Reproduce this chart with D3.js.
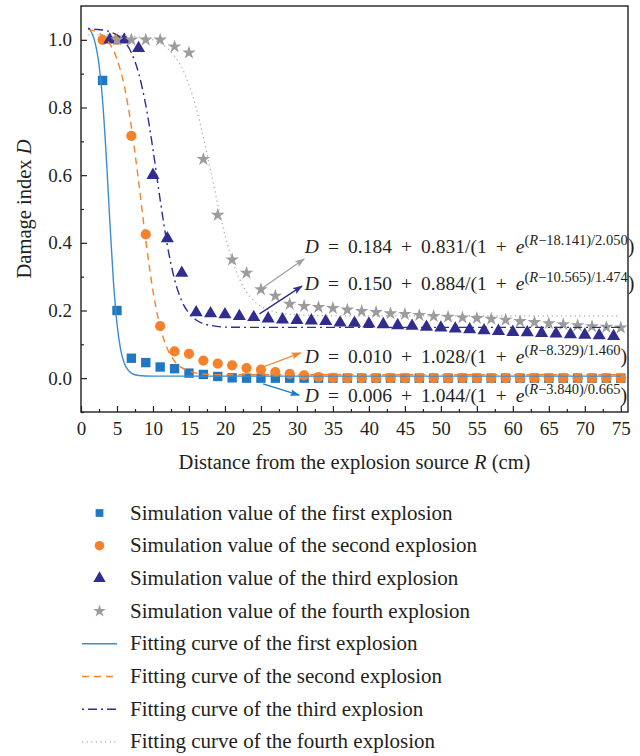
<!DOCTYPE html>
<html>
<head>
<meta charset="utf-8">
<script src="https://cdn.jsdelivr.net/npm/d3@7"></script>
<style>
body { margin: 0; background: #fff; }
text { font-family: "Liberation Serif", "Times New Roman", serif; fill: #231f20; }
</style>
</head>
<body>
<div id="chart"></div>
<script>
// simulation values
const squareX = [3,5,7,9,11,13,15,17,19,21,23,25,27,29,31,33,35,37,39,41,43,45,47,49,51,53,55,57,59,61,63,65,67,69,71,73,75];
const squareY = [0.880,0.200,0.059,0.046,0.033,0.028,0.015,0.011,0.005,0.001,0.000,0.000,0.000,0.000,0.000,0.000,0.000,0.000,0.000,0.000,0.000,0.000,0.000,0.000,0.000,0.000,0.000,0.000,0.000,0.000,0.000,0.000,0.000,0.000,0.000,0.000,0.000];

const circleX = [3,5,7,9,11,13,15,17,19,21,23,25,27,29,31,33,35,37,39,41,43,45,47,49,51,53,55,57,59,61,63,65,67,69,71,73,75];
const circleY = [1.000,1.000,0.716,0.425,0.154,0.079,0.072,0.052,0.043,0.038,0.030,0.025,0.018,0.013,0.008,0.003,0.001,0.000,0.000,0.000,0.000,0.000,0.000,0.000,0.000,0.000,0.000,0.000,0.000,0.000,0.000,0.000,0.000,0.000,0.000,0.000,0.000];

const triX = [4,6,8,10,12,14,16,18,20,22,24,26,28,30,32,34,36,38,40,42,44,46,48,50,52,54,56,58,60,62,64,66,68,70,72,74];
const triY = [1.000,1.000,0.975,0.600,0.413,0.311,0.194,0.191,0.188,0.183,0.180,0.176,0.173,0.171,0.170,0.168,0.164,0.163,0.161,0.159,0.156,0.154,0.151,0.149,0.146,0.144,0.141,0.139,0.136,0.135,0.133,0.131,0.129,0.128,0.126,0.124];

const starX = [5,7,9,11,13,15,17,19,21,23,25,27,29,31,33,35,37,39,41,43,45,47,49,51,53,55,57,59,61,63,65,67,69,71,73,75];
const starY = [1.000,1.000,1.000,1.000,0.980,0.962,0.647,0.482,0.350,0.311,0.262,0.243,0.219,0.213,0.210,0.207,0.202,0.198,0.195,0.191,0.189,0.186,0.183,0.181,0.179,0.177,0.175,0.172,0.168,0.165,0.162,0.159,0.156,0.153,0.151,0.149];

// fitted curves, points
const fit1X = [1,1.5,2,2.5,3,3.5,4,4.5,5,5.5,6,6.5,7,8,10,20,40,75];
const fit1Y = [1.036,1.020,0.988,0.927,0.820,0.659,0.466,0.288,0.161,0.085,0.045,0.025,0.015,0.008,0.006,0.006,0.006,0.006];
const fit2X = [1,2,3,4,5,6,7,8,9,10,11,12,13,14,15,16,18,20,30,75];
const fit2Y = [1.031,1.025,1.012,0.988,0.943,0.865,0.743,0.582,0.408,0.258,0.152,0.087,0.050,0.031,0.021,0.015,0.011,0.010,0.010,0.010];
const fit3X = [1,2,3,4,5,6,7,8,9,10,11,12,13,14,15,16,17,18,20,25,75];
const fit3Y = [1.033,1.031,1.029,1.024,1.014,0.996,0.962,0.902,0.807,0.676,0.527,0.392,0.292,0.228,0.192,0.172,0.161,0.156,0.151,0.150,0.150];
const fit4X = [1,5,8,10,11,12,13,14,15,16,17,18,19,20,21,22,23,24,25,26,28,30,33,40,75];
const fit4Y = [1.015,1.014,1.009,1.000,0.990,0.975,0.952,0.918,0.867,0.799,0.712,0.614,0.514,0.423,0.349,0.294,0.255,0.229,0.212,0.202,0.191,0.187,0.185,0.184,0.184];

// fit parameters shown in the annotations: D = a + b/(1 + e^((R-c)/d))
const fitA = ["0.184","0.150","0.010","0.006"];
const fitB = ["0.831","0.884","1.028","1.044"];
const fitC = ["18.141","10.565","8.329","3.840"];
const fitD = ["2.050","1.474","1.460","0.665"];
const labelAt = [[31.1,0.369],[31.1,0.261],[31.1,0.045],[31.1,-0.069]];
const arrowFrom = [[25.1,0.265],[24.8,0.190],[25.3,0.033],[25.3,-0.017]];
const arrowTo = [[31.0,0.352],[30.7,0.272],[30.5,0.075],[30.3,-0.050]];

const xTicks = [0,5,10,15,20,25,30,35,40,45,50,55,60,65,70,75];
const xMinor = [2.5,7.5,12.5,17.5,22.5,27.5,32.5,37.5,42.5,47.5,52.5,57.5,62.5,67.5,72.5];
const yTicks = [0,0.2,0.4,0.6,0.8,1.0];
const yMinor = [-0.1,0.1,0.3,0.5,0.7,0.9];

const legendLabels = [
  "Simulation value of the first explosion",
  "Simulation value of the second explosion",
  "Simulation value of the third explosion",
  "Simulation value of the fourth explosion",
  "Fitting curve of the first explosion",
  "Fitting curve of the second explosion",
  "Fitting curve of the third explosion",
  "Fitting curve of the fourth explosion"
];

const BLUE = "#1f78c1", ORANGE = "#f5822a", NAVY = "#302d8f", GRAY = "#9c9c9c";
const colors = [BLUE, ORANGE, NAVY, GRAY];
const lineColors = ["#3a8dd2", ORANGE, NAVY, "#a8a8a8"];
const dashes = [null, "7,5", "2,4,9,4", "1.2,3.4"];

const WIDTH = 640, HEIGHT = 756;
const PLOT = {left: 81, right: 628, top: 6, bottom: 412};

const svg = d3.select("#chart").append("svg")
  .attr("width", WIDTH).attr("height", HEIGHT);

const x = d3.scaleLinear().domain([0, 76]).range([PLOT.left, PLOT.right]);
const y = d3.scaleLinear().domain([-0.1, 1.1]).range([PLOT.bottom, PLOT.top]);

const markers = [
  {xs: squareX, ys: squareY, type: d3.symbolSquare, size: 88},
  {xs: circleX, ys: circleY, type: d3.symbolCircle, size: 82},
  {xs: triX, ys: triY, type: d3.symbolTriangle, size: 74},
  {xs: starX, ys: starY, type: d3.symbolStar, size: 58}
];
const fits = [[fit1X, fit1Y], [fit2X, fit2Y], [fit3X, fit3Y], [fit4X, fit4Y]];

// markers first, fitted lines drawn over them
markers.forEach((m, i) => {
  svg.append("g").selectAll("path")
    .data(m.xs.map((v, k) => [v, m.ys[k]]))
    .join("path")
    .attr("transform", d => `translate(${x(d[0])},${y(d[1])})`)
    .attr("d", d3.symbol().type(m.type).size(m.size))
    .attr("fill", colors[i]);
});

const line = d3.line().x(d => x(d[0])).y(d => y(d[1])).curve(d3.curveMonotoneX);
fits.forEach((f, i) => {
  svg.append("path")
    .attr("d", line(f[0].map((v, k) => [v, f[1][k]])))
    .attr("fill", "none")
    .attr("stroke", lineColors[i])
    .attr("stroke-width", i === 3 ? 1.2 : 1.4)
    .attr("stroke-dasharray", dashes[i]);
});

// axes: ticks point inward
svg.append("g").attr("transform", `translate(0,${PLOT.bottom})`)
  .call(d3.axisBottom(x).tickValues(xTicks).tickSizeInner(-6).tickSizeOuter(0).tickPadding(10).tickFormat(d3.format("d")));
svg.append("g").attr("transform", `translate(0,${PLOT.bottom})`)
  .call(d3.axisBottom(x).tickValues(xMinor).tickSizeInner(-3).tickSizeOuter(0).tickFormat(""));
svg.append("g").attr("transform", `translate(${PLOT.left},0)`)
  .call(d3.axisLeft(y).tickValues(yTicks).tickSizeInner(-6).tickSizeOuter(0).tickPadding(9).tickFormat(d3.format(".1f")));
svg.append("g").attr("transform", `translate(${PLOT.left},0)`)
  .call(d3.axisLeft(y).tickValues(yMinor).tickSizeInner(-3).tickSizeOuter(0).tickFormat(""));

svg.selectAll(".domain").remove();
svg.selectAll(".tick line").attr("stroke", "#231f20").attr("stroke-width", 1.2);
svg.selectAll(".tick text").attr("font-size", 19).attr("fill", "#231f20");

svg.append("rect")
  .attr("x", PLOT.left).attr("y", PLOT.top)
  .attr("width", PLOT.right - PLOT.left).attr("height", PLOT.bottom - PLOT.top)
  .attr("fill", "none").attr("stroke", "#231f20").attr("stroke-width", 1.4);

// axis titles
const xTitle = svg.append("text")
  .attr("x", (PLOT.left + PLOT.right) / 2).attr("y", 469)
  .attr("text-anchor", "middle").attr("font-size", 20.5);
xTitle.append("tspan").text("Distance from the explosion source ");
xTitle.append("tspan").attr("font-style", "italic").text("R");
xTitle.append("tspan").text(" (cm)");

const yTitle = svg.append("text")
  .attr("transform", `translate(31,${(PLOT.top + PLOT.bottom) / 2}) rotate(-90)`)
  .attr("text-anchor", "middle").attr("font-size", 20.5);
yTitle.append("tspan").text("Damage index ");
yTitle.append("tspan").attr("font-style", "italic").text("D");

// arrows + equations
const defs = svg.append("defs");
colors.forEach((c, i) => {
  defs.append("marker")
    .attr("id", "head" + i)
    .attr("markerUnits", "userSpaceOnUse")
    .attr("viewBox", "0 0 10 8")
    .attr("refX", 9).attr("refY", 4)
    .attr("markerWidth", 10).attr("markerHeight", 8)
    .attr("orient", "auto")
    .append("path").attr("d", "M0,0.6L10,4L0,7.4L2,4Z").attr("fill", i === 3 ? "#a0a0a0" : c);
});

// annotation rows top to bottom belong to the fourth, third, second, first explosion
const seriesOfRow = [3, 2, 1, 0];
seriesOfRow.forEach((s, r) => {
  svg.append("line")
    .attr("x1", x(arrowFrom[r][0])).attr("y1", y(arrowFrom[r][1]))
    .attr("x2", x(arrowTo[r][0])).attr("y2", y(arrowTo[r][1]))
    .attr("stroke", s === 3 ? "#a0a0a0" : colors[s]).attr("stroke-width", 1.3)
    .attr("marker-end", `url(#head${s})`);

  const t = svg.append("text")
    .attr("x", x(labelAt[r][0])).attr("y", y(labelAt[r][1]))
    .attr("font-size", 19.5);
  t.append("tspan").attr("font-style", "italic").text("D");
  t.append("tspan").attr("word-spacing", 4.2).text(` = ${fitA[r]} + ${fitB[r]}/(1 + `);
  t.append("tspan").attr("font-style", "italic").text("e");
  const sup = t.append("tspan").attr("dy", -8).attr("font-size", 14.5);
  sup.append("tspan").text("(");
  sup.append("tspan").attr("font-style", "italic").text("R");
  sup.append("tspan").text(`\u2212${fitC[r]})/${fitD[r]}`);
  t.append("tspan").attr("dy", 8).attr("font-size", 20).text(")");
});

// legend
const LEG_TOP = 513, LEG_STEP = 32.7;
const legSizes = [60, 72, 66, 50];
const legend = svg.append("g");
legendLabels.forEach((label, i) => {
  const cy = LEG_TOP + i * LEG_STEP;
  if (i < 4) {
    legend.append("path")
      .attr("transform", `translate(99.5,${cy})`)
      .attr("d", d3.symbol().type(markers[i].type).size(legSizes[i]))
      .attr("fill", colors[i]);
  } else {
    const k = i - 4;
    legend.append("line")
      .attr("x1", 82).attr("x2", 117).attr("y1", cy).attr("y2", cy)
      .attr("stroke", lineColors[k]).attr("stroke-width", k === 3 ? 1.2 : 1.4)
      .attr("stroke-dasharray", dashes[k]);
  }
  legend.append("text")
    .attr("x", 130).attr("y", cy + 6.5)
    .attr("font-size", 21)
    .text(label);
});
</script>
</body>
</html>
